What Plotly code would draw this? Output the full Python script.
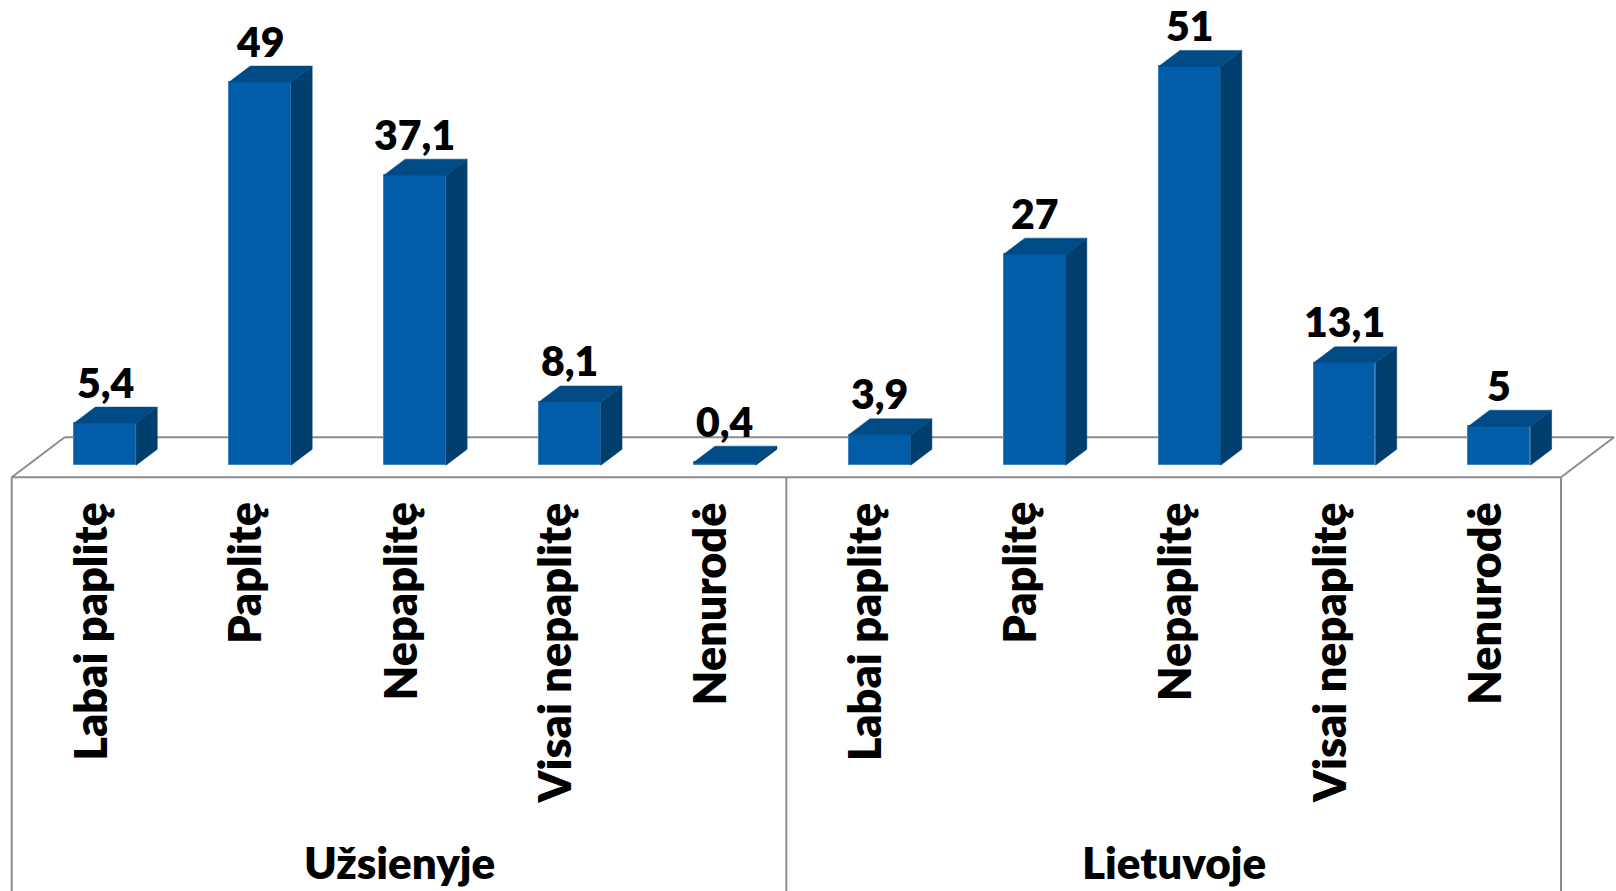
import plotly.graph_objects as go

# ---------------- data ----------------
groups = ["Užsienyje", "Lietuvoje"]
categories = ["Labai paplitę", "Paplitę", "Nepaplitę", "Visai nepaplitę", "Nenurodė"]
values_uzsienyje = [5.4, 49, 37.1, 8.1, 0.4]
values_lietuvoje = [3.9, 27, 51, 13.1, 5]

# ---------------- geometry / style ----------------
W, H = 1616, 891
X_LEFT_PX, X_RIGHT_PX = 11.7, 1561.0
Y0_PX = 477.3
N_SLOTS = len(categories) * len(groups)
SX = (X_RIGHT_PX - X_LEFT_PX) / N_SLOTS      # px per slot unit
SY = 7.821                                  # px per value unit
DDX = 53.0 / SX                              # floor depth (x, data units)
DDY = 40.0 / SY                              # floor depth (y, data units)
D_FRONT, D_BACK = 0.3, 0.7
BAR_W = 0.4

FRONT = "#015DA8"
SIDE = "#003E6E"
TOP = "#004A86"
EDGE = "#3C80C2"
GRID = "#8C8C8C"
FONT = "Lato"
WEIGHT = 800

x_range = [-X_LEFT_PX / SX, (W - X_LEFT_PX) / SX]
y_range = [-(H - Y0_PX) / SY, Y0_PX / SY]

all_values = values_uzsienyje + values_lietuvoje
all_cats = categories * len(groups)
centers = [i + 0.5 for i in range(N_SLOTS)]

fx = D_FRONT * DDX
fy = D_FRONT * DDY
ox = (D_BACK - D_FRONT) * DDX
oy = (D_BACK - D_FRONT) * DDY

fig = go.Figure()

# front faces (real bars)
fig.add_trace(go.Bar(
    x=[c + fx for c in centers], y=all_values, base=[fy] * N_SLOTS,
    width=BAR_W, marker=dict(color=FRONT, line=dict(color=EDGE, width=1)),
    hoverinfo="skip", showlegend=False,
))

# side and top faces
sx_, sy_, tx_, ty_ = [], [], [], []
for c, v in zip(centers, all_values):
    xl = c + fx - BAR_W / 2
    xr = c + fx + BAR_W / 2
    yb = fy
    yt = v + fy
    sx_ += [xr, xr + ox, xr + ox, xr, xr, None]
    sy_ += [yb, yb + oy, yt + oy, yt, yb, None]
    tx_ += [xl, xr, xr + ox, xl + ox, xl, None]
    ty_ += [yt, yt, yt + oy, yt + oy, yt, None]

fig.add_trace(go.Scatter(x=sx_, y=sy_, fill="toself", fillcolor=SIDE, mode="lines",
                         line=dict(color=SIDE, width=0.5), hoverinfo="skip", showlegend=False))
fig.add_trace(go.Scatter(x=tx_, y=ty_, fill="toself", fillcolor=TOP, mode="lines",
                         line=dict(color=TOP, width=0.5), hoverinfo="skip", showlegend=False))

# floor
shapes = []
x_end = float(N_SLOTS)
shapes.append(dict(type="line", xref="x", yref="y", x0=0, y0=0, x1=x_end, y1=0,
                   line=dict(color=GRID, width=2), layer="below"))
shapes.append(dict(type="line", xref="x", yref="y", x0=DDX, y0=DDY, x1=x_end + DDX, y1=DDY,
                   line=dict(color=GRID, width=2), layer="below"))
for xv in [0, x_end]:
    shapes.append(dict(type="line", xref="x", yref="y", x0=xv, y0=0, x1=xv + DDX, y1=DDY,
                       line=dict(color=GRID, width=2), layer="below"))
for g in range(len(groups) + 1):
    xv = g * len(categories)
    shapes.append(dict(type="line", xref="x", yref="y", x0=xv, y0=0, x1=xv, y1=y_range[0],
                       line=dict(color=GRID, width=2), layer="below"))

annotations = []
# value labels
for c, v in zip(centers, all_values):
    txt = str(v).replace(".", ",")
    annotations.append(dict(x=c + fx, y=v + fy + 41 / SY, xref="x", yref="y",
                            text=txt, showarrow=False, xanchor="center", yanchor="middle",
                            font=dict(family=FONT, size=41, color="black", weight=WEIGHT)))
# category labels
for c, cat in zip(centers, all_cats):
    annotations.append(dict(x=c, y=-(500 - Y0_PX) / SY, xref="x", yref="y",
                            text=cat, showarrow=False, textangle=-90,
                            xanchor="center", yanchor="top",
                            font=dict(family=FONT, size=45, color="black", weight=WEIGHT)))
# group labels
for g, name in enumerate(groups):
    gc = g * len(categories) + len(categories) / 2
    annotations.append(dict(x=gc, y=-(862 - Y0_PX) / SY, xref="x", yref="y",
                            text=name, showarrow=False, xanchor="center", yanchor="middle",
                            font=dict(family=FONT, size=44, color="black", weight=WEIGHT)))

fig.update_layout(
    width=W, height=H,
    margin=dict(l=0, r=0, t=0, b=0),
    paper_bgcolor="white", plot_bgcolor="white",
    xaxis=dict(range=x_range, visible=False, fixedrange=True),
    yaxis=dict(range=y_range, visible=False, fixedrange=True),
    shapes=shapes, annotations=annotations,
    bargap=0, showlegend=False,
)

fig.write_html("out.html", config={"displayModeBar": False},
               post_script="document.body.style.margin='0px';document.body.style.overflow='hidden';")
